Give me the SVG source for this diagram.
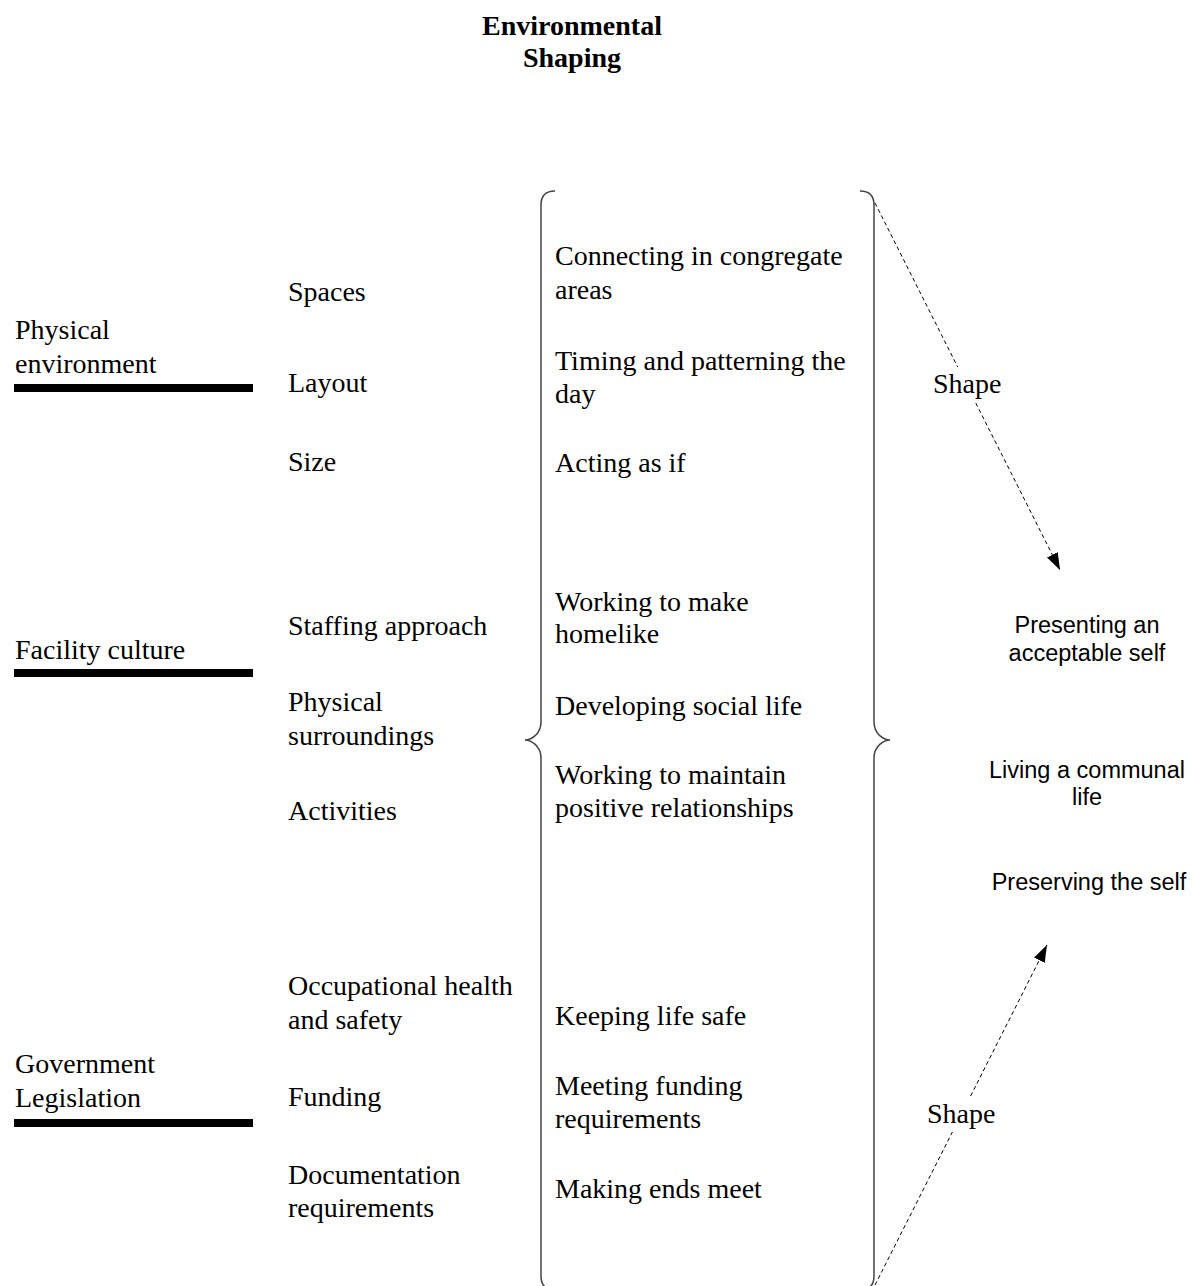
<svg xmlns="http://www.w3.org/2000/svg" width="1192" height="1286" viewBox="0 0 1192 1286">
<style>
.s{font-family:"Liberation Serif","Times New Roman",serif;font-size:28px;fill:#000}
.t{font-family:"Liberation Serif","Times New Roman",serif;font-size:28px;font-weight:bold;fill:#000;text-anchor:middle}
.a{font-family:"Liberation Sans",Arial,sans-serif;font-size:23.5px;fill:#000;text-anchor:middle}
.bar{fill:#000}
.brace{fill:none;stroke:#444;stroke-width:1.5}
.dash{fill:none;stroke:#000;stroke-width:1;stroke-dasharray:4 3}
</style>
<defs>
<marker id="arr" viewBox="0 0 17 12" refX="17" refY="6" markerUnits="userSpaceOnUse" markerWidth="17" markerHeight="12" orient="auto">
<path d="M0,0 L17,6 L0,12 z" fill="#000" stroke="none"/>
</marker>
</defs>
<rect width="1192" height="1286" fill="#fff"/>
<g id="title"><text class="t" x="572" y="35">Environmental</text><text class="t" x="572" y="67">Shaping</text></g>

<g id="physical-environment"><text class="s" x="15" y="339">Physical</text><text class="s" x="15" y="373">environment</text><rect class="bar" x="14" y="384" width="239" height="8"/></g>
<g id="facility-culture"><text class="s" x="15" y="659">Facility culture</text><rect class="bar" x="14" y="669" width="239" height="8"/></g>
<g id="government-legislation"><text class="s" x="15" y="1073">Government</text><text class="s" x="15" y="1107">Legislation</text><rect class="bar" x="14" y="1119" width="239" height="8"/></g>

<g id="spaces"><text class="s" x="288" y="301">Spaces</text></g>
<g id="layout"><text class="s" x="288" y="392">Layout</text></g>
<g id="size"><text class="s" x="288" y="471">Size</text></g>
<g id="staffing"><text class="s" x="288" y="635">Staffing approach</text></g>
<g id="physical-surroundings"><text class="s" x="288" y="711">Physical</text><text class="s" x="288" y="745">surroundings</text></g>
<g id="activities"><text class="s" x="288" y="820">Activities</text></g>
<g id="ohs"><text class="s" x="288" y="995">Occupational health</text><text class="s" x="288" y="1029">and safety</text></g>
<g id="funding"><text class="s" x="288" y="1106">Funding</text></g>
<g id="documentation"><text class="s" x="288" y="1184">Documentation</text><text class="s" x="288" y="1217">requirements</text></g>

<g id="braces">
<path class="brace" d="M555,191 Q541,191 541,205 L541,722 C541,735 530,740 525,740 C530,740 541,745 541,758 L541,1276 Q541,1290 555,1290"/>
<path class="brace" d="M860,191 Q874,191 874,205 L874,722 C874,735 885,740 890,740 C885,740 874,745 874,758 L874,1276 Q874,1290 860,1290"/>
</g>

<g id="connecting"><text class="s" x="555" y="265">Connecting in congregate</text><text class="s" x="555" y="299">areas</text></g>
<g id="timing"><text class="s" x="555" y="370">Timing and patterning the</text><text class="s" x="555" y="403">day</text></g>
<g id="acting"><text class="s" x="555" y="472">Acting as if</text></g>
<g id="homelike"><text class="s" x="555" y="611">Working to make</text><text class="s" x="555" y="643">homelike</text></g>
<g id="social-life"><text class="s" x="555" y="715">Developing social life</text></g>
<g id="relationships"><text class="s" x="555" y="784">Working to maintain</text><text class="s" x="555" y="817">positive relationships</text></g>
<g id="safe"><text class="s" x="555" y="1025">Keeping life safe</text></g>
<g id="meeting-funding"><text class="s" x="555" y="1095">Meeting funding</text><text class="s" x="555" y="1128">requirements</text></g>
<g id="ends-meet"><text class="s" x="555" y="1198">Making ends meet</text></g>

<g id="presenting"><text class="a" x="1087" y="633">Presenting an</text><text class="a" x="1087" y="661">acceptable self</text></g>
<g id="communal"><text class="a" x="1087" y="778">Living a communal</text><text class="a" x="1087" y="805">life</text></g>
<g id="preserving"><text class="a" x="1089" y="890">Preserving the self</text></g>

<g id="connectors">
<path class="dash" d="M875,203 L957.7,367"/>
<path class="dash" d="M975.8,403 L1060,570" marker-end="url(#arr)"/>
<text class="s" x="933" y="393">Shape</text>
<path class="dash" d="M875,1285 L952.4,1132"/>
<path class="dash" d="M970.6,1096 L1047,945" marker-end="url(#arr)"/>
<text class="s" x="927" y="1123">Shape</text>
</g>
</svg>
